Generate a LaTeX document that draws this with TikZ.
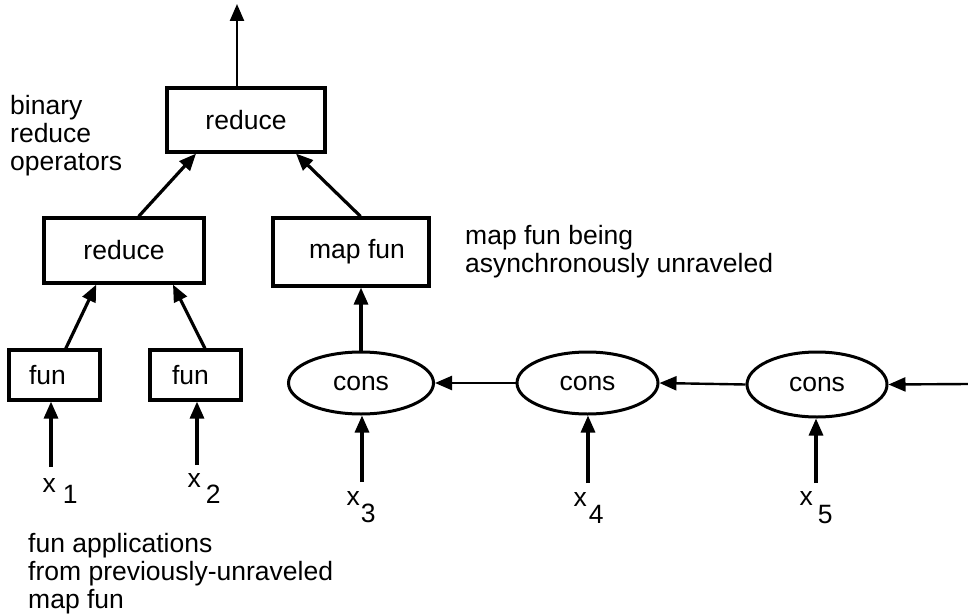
\documentclass[tikz,border=0pt]{standalone}
\usepackage{fontspec}
\setmainfont{Liberation Sans}
\usetikzlibrary{arrows.meta,calc,shapes.geometric}

\begin{document}
\begin{tikzpicture}[x=1pt,y=-1pt,
  every node/.style={font=\fontsize{26.5}{28}\selectfont},
  opbox/.style={draw,line width=3.2pt,rectangle,inner sep=0pt},
  consnode/.style={draw,line width=3pt,ellipse,inner sep=0pt,minimum width=140pt,minimum height=62pt},
  flow/.style={line width=3.2pt,-{Triangle[length=17pt,width=14pt]}},
  thinflow/.style={line width=2.4pt,-{Triangle[length=17pt,width=14pt]}},
  note/.style={inner sep=0pt,align=left,anchor=north west},
  sublab/.style={inner sep=0pt,anchor=base west}
]
\useasboundingbox (0,0) rectangle (968,615);

% reduce tree and map fun
\node[opbox,minimum width=158pt,minimum height=64pt] (r0) at (246,120) {reduce};
\node[opbox,minimum width=160pt,minimum height=65pt] (r1) at (124,250.5) {reduce};
\node[opbox,minimum width=156pt,minimum height=68pt] (mf) at (351,252) {\hspace*{12pt}map fun};
\node[opbox,minimum width=91pt,minimum height=50pt] (f1) at (54.5,375) {fun\hspace*{14pt}};
\node[opbox,minimum width=91pt,minimum height=50pt] (f2) at (195.5,375) {fun\hspace*{10pt}};

% cons chain
\node[consnode,minimum width=145pt] (c1) at (361,383) {cons};
\node[consnode,minimum width=141pt] (c2) at (587.5,383) {cons};
\node[consnode,minimum height=65pt] (c3) at (817,384.5) {cons};

% free ends
\coordinate (out) at (237,4);
\coordinate (in) at (968,384);
\coordinate (t1) at (51,467);
\coordinate (t2) at (197,465);
\coordinate (t3) at (362,482);
\coordinate (t4) at (588,483);
\coordinate (t5) at (816,483);

% connectors
\draw[thinflow] (out |- r0.north) -- (out);
\draw[flow] ($(r1.north west)!0.59!(r1.north east)$) -- ($(r0.south west)!0.19!(r0.south east)$);
\draw[flow] ($(mf.north west)!0.56!(mf.north east)$) -- ($(r0.south west)!0.81!(r0.south east)$);
\draw[flow] ($(f1.north west)!0.62!(f1.north east)$) -- ($(r1.south west)!0.33!(r1.south east)$);
\draw[flow] ($(f2.north west)!0.60!(f2.north east)$) -- ($(r1.south west)!0.80!(r1.south east)$);
\draw[flow] (c1.north) -- (c1.north |- mf.south);
\draw[thinflow] (c2.west) -- (c1.east);
\draw[thinflow] (c3.west) -- (c2.east);
\draw[thinflow] (in) -- (c3.east);
\draw[flow] (t1) -- (t1 |- f1.south);
\draw[flow] (t2) -- (t2 |- f2.south);
\draw[flow] (t3) -- (t3 |- c1.south);
\draw[flow] (t4) -- (t4 |- c2.south);
\draw[flow] (t5) -- (t5 |- c3.south);

% inputs
\node[sublab] (x1) at (42.5,492) {x\kern7pt\raisebox{-11pt}{1}};
\node[sublab] (x2) at (187.5,487) {x\kern5pt\raisebox{-16pt}{2}};
\node[sublab] (x3) at (346.5,505) {x\kern1pt\raisebox{-17pt}{3}};
\node[sublab] (x4) at (573.5,506) {x\kern2pt\raisebox{-17pt}{4}};
\node[sublab] (x5) at (799.5,505) {x\kern5pt\raisebox{-18pt}{5}};

% annotations
\node[note] (n1) at (10,95) {binary\\reduce\\operators};
\node[note] (n2) at (465,225) {map fun being\\asynchronously unraveled};
\node[note] (n3) at (28,533) {fun applications\\from previously-unraveled\\map fun};
\end{tikzpicture}
\end{document}
